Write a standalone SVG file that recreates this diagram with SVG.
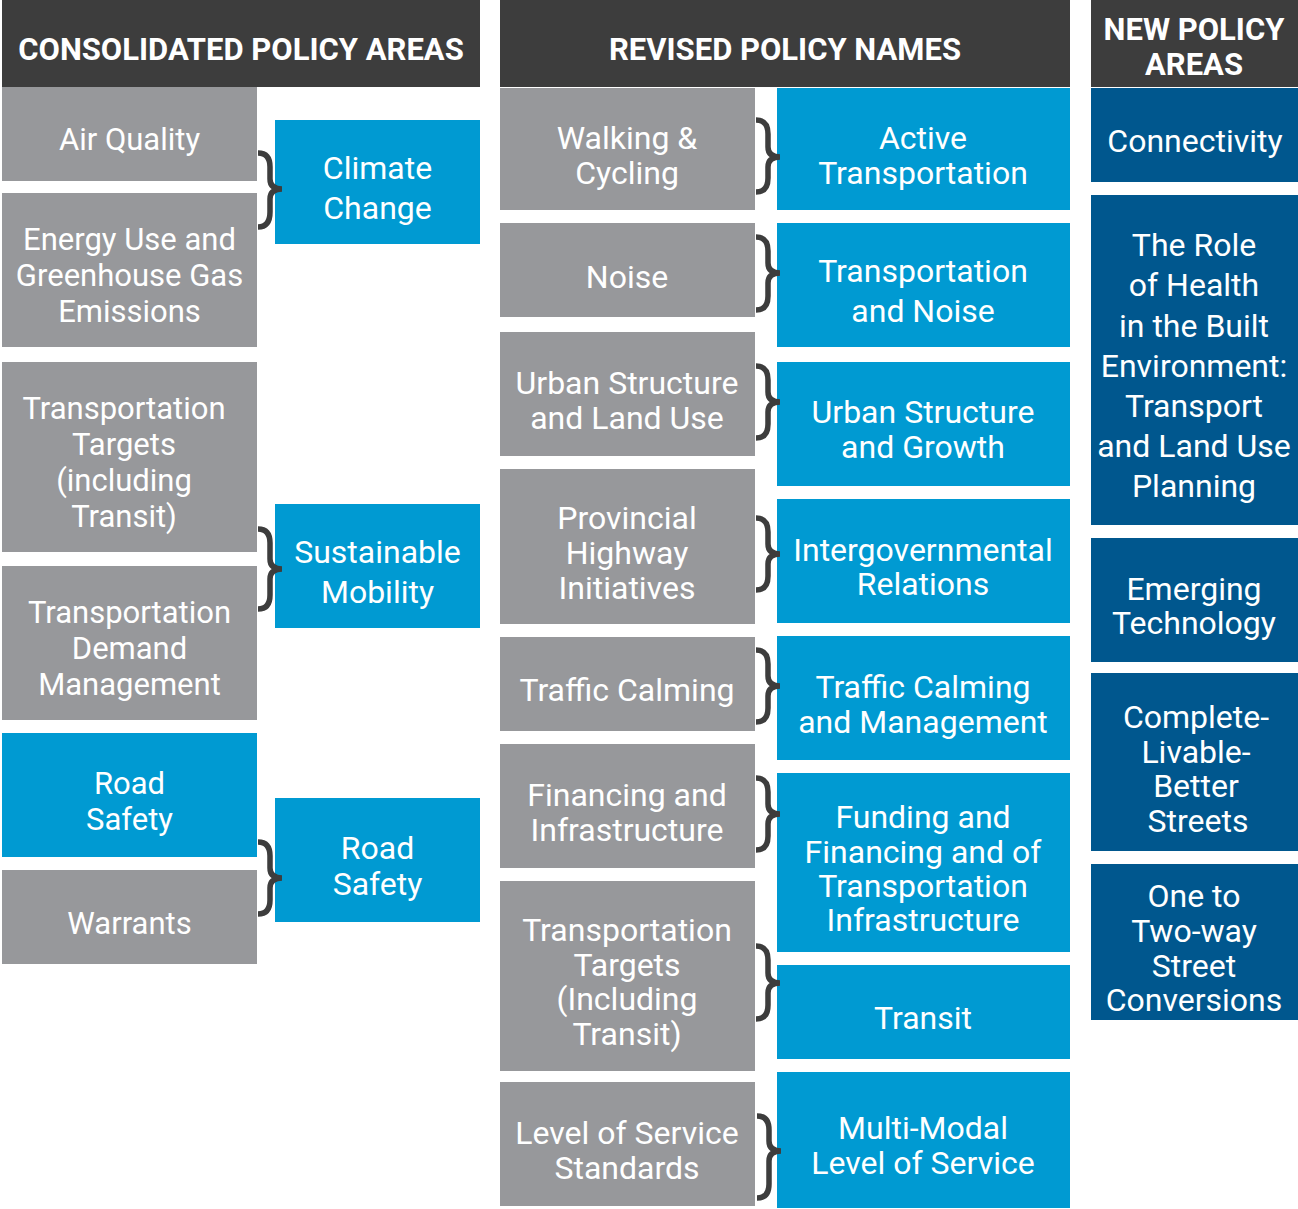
<svg xmlns="http://www.w3.org/2000/svg" width="1298" height="1209" viewBox="0 0 1298 1209">
<style>
.hd{fill:#3d3d3d}
.g{fill:#97989b}
.b{fill:#009ad2}
.d{fill:#00578e}
text{font-family:Roboto,"Liberation Sans",sans-serif;fill:#fff;text-anchor:middle}
.t{font-size:32px}
.s{font-size:31px}
.h{font-size:31px;font-weight:bold}
.br{fill:none;stroke:#3d3d3d;stroke-width:5.5}
</style>
<rect width="1298" height="1209" fill="#fff"/>
<g id="hdr1"><rect class="hd" x="2" y="0" width="478" height="87"/><text class="h" x="241" y="60">CONSOLIDATED POLICY AREAS</text></g>
<g id="hdr2"><rect class="hd" x="500" y="0" width="570" height="87"/><text class="h" x="785" y="60">REVISED POLICY NAMES</text></g>
<g id="hdr3"><rect class="hd" x="1091" y="0" width="207" height="87"/><text class="h" x="1194" y="40">NEW POLICY</text><text class="h" x="1194" y="75">AREAS</text></g>

<g id="c1-air"><rect class="g" x="2" y="87" width="255" height="94"/><text class="s" x="129.5" y="150">Air Quality</text></g>
<g id="c1-energy"><rect class="g" x="2" y="193" width="255" height="154"/><text class="s" x="129.5" y="250">Energy Use and</text><text class="s" x="129.5" y="286">Greenhouse Gas</text><text class="s" x="129.5" y="322">Emissions</text></g>
<g id="c1-tt"><rect class="g" x="2" y="362" width="255" height="190"/><text class="s" x="124" y="419">Transportation</text><text class="s" x="124" y="455">Targets</text><text class="s" x="124" y="491">(including</text><text class="s" x="124" y="527">Transit)</text></g>
<g id="c1-tdm"><rect class="g" x="2" y="566" width="255" height="154"/><text class="s" x="129.5" y="623">Transportation</text><text class="s" x="129.5" y="659">Demand</text><text class="s" x="129.5" y="695">Management</text></g>
<g id="c1-rs"><rect class="b" x="2" y="733" width="255" height="124"/><text class="s" x="129.5" y="794">Road</text><text class="s" x="129.5" y="830">Safety</text></g>
<g id="c1-war"><rect class="g" x="2" y="870" width="255" height="94"/><text class="s" x="129.5" y="934">Warrants</text></g>

<g id="c1-cc"><rect class="b" x="275" y="120" width="205" height="124"/><text class="t" x="377.5" y="179">Climate</text><text class="t" x="377.5" y="219">Change</text></g>
<g id="c1-sm"><rect class="b" x="275" y="504" width="205" height="124"/><text class="t" x="377.5" y="563">Sustainable</text><text class="t" x="377.5" y="603">Mobility</text></g>
<g id="c1-rs2"><rect class="b" x="275" y="798" width="205" height="124"/><text class="t" x="377.5" y="859">Road</text><text class="t" x="377.5" y="895">Safety</text></g>

<g id="c2-walk"><rect class="g" x="500" y="88" width="255" height="122"/><text class="t" x="627" y="149">Walking &amp;</text><text class="t" x="627" y="184">Cycling</text></g>
<g id="c2-noise"><rect class="g" x="500" y="223" width="255" height="94"/><text class="t" x="627" y="288">Noise</text></g>
<g id="c2-urban"><rect class="g" x="500" y="332" width="255" height="124"/><text class="t" x="627" y="394">Urban Structure</text><text class="t" x="627" y="429">and Land Use</text></g>
<g id="c2-prov"><rect class="g" x="500" y="469" width="255" height="155"/><text class="t" x="627" y="529">Provincial</text><text class="t" x="627" y="564">Highway</text><text class="t" x="627" y="599">Initiatives</text></g>
<g id="c2-tc"><rect class="g" x="500" y="637" width="255" height="94"/><text class="t" x="627" y="701">Traffic Calming</text></g>
<g id="c2-fin"><rect class="g" x="500" y="744" width="255" height="124"/><text class="t" x="627" y="806">Financing and</text><text class="t" x="627" y="841">Infrastructure</text></g>
<g id="c2-tt"><rect class="g" x="500" y="881" width="255" height="190"/><text class="t" x="627" y="941">Transportation</text><text class="t" x="627" y="976">Targets</text><text class="t" x="627" y="1010">(Including</text><text class="t" x="627" y="1045">Transit)</text></g>
<g id="c2-los"><rect class="g" x="500" y="1082" width="255" height="124"/><text class="t" x="627" y="1144">Level of Service</text><text class="t" x="627" y="1179">Standards</text></g>

<g id="c2-active"><rect class="b" x="777" y="88" width="293" height="122"/><text class="t" x="923" y="149">Active</text><text class="t" x="923" y="184">Transportation</text></g>
<g id="c2-tn"><rect class="b" x="777" y="223" width="293" height="124"/><text class="t" x="923" y="282">Transportation</text><text class="t" x="923" y="322">and Noise</text></g>
<g id="c2-usg"><rect class="b" x="777" y="362" width="293" height="124"/><text class="t" x="923" y="423">Urban Structure</text><text class="t" x="923" y="458">and Growth</text></g>
<g id="c2-igr"><rect class="b" x="777" y="499" width="293" height="124"/><text class="t" x="923" y="561">Intergovernmental</text><text class="t" x="923" y="595">Relations</text></g>
<g id="c2-tcm"><rect class="b" x="777" y="636" width="293" height="124"/><text class="t" x="923" y="698">Traffic Calming</text><text class="t" x="923" y="733">and Management</text></g>
<g id="c2-fund"><rect class="b" x="777" y="773" width="293" height="179"/><text class="t" x="923" y="828">Funding and</text><text class="t" x="923" y="863">Financing and of</text><text class="t" x="923" y="897">Transportation</text><text class="t" x="923" y="931">Infrastructure</text></g>
<g id="c2-transit"><rect class="b" x="777" y="965" width="293" height="94"/><text class="t" x="923" y="1029">Transit</text></g>
<g id="c2-mmlos"><rect class="b" x="777" y="1072" width="293" height="136"/><text class="t" x="923" y="1139">Multi-Modal</text><text class="t" x="923" y="1174">Level of Service</text></g>

<g id="c3-conn"><rect class="d" x="1091" y="88" width="207" height="94"/><text class="t" x="1195" y="152">Connectivity</text></g>
<g id="c3-health"><rect class="d" x="1091" y="195" width="207" height="330"/><text class="t" x="1194" y="256">The Role</text><text class="t" x="1194" y="296">of Health</text><text class="t" x="1194" y="337">in the Built</text><text class="t" x="1194" y="377">Environment:</text><text class="t" x="1194" y="417">Transport</text><text class="t" x="1194" y="457">and Land Use</text><text class="t" x="1194" y="497">Planning</text></g>
<g id="c3-emerg"><rect class="d" x="1091" y="538" width="207" height="124"/><text class="t" x="1194" y="600">Emerging</text><text class="t" x="1194" y="634">Technology</text></g>
<g id="c3-clbs"><rect class="d" x="1091" y="673" width="207" height="178"/><text class="t" x="1196" y="728">Complete-</text><text class="t" x="1196" y="763">Livable-</text><text class="t" x="1196" y="797">Better</text><text class="t" x="1198" y="832">Streets</text></g>
<g id="c3-oneway"><rect class="d" x="1091" y="864" width="207" height="156"/><text class="t" x="1194" y="907">One to</text><text class="t" x="1194" y="942">Two-way</text><text class="t" x="1194" y="977">Street</text><text class="t" x="1194" y="1011">Conversions</text></g>

<g id="connectors">
<path class="br" d="M258,153 Q270,153 270,167 L270,179 Q270,189 282,189 Q270,189 270,199 L270,212 Q270,227 258,227"/>
<path class="br" d="M258,529 Q270,529 270,543 L270,559 Q270,569 282,569 Q270,569 270,579 L270,595 Q270,609 258,609"/>
<path class="br" d="M258,842 Q270,842 270,856 L270,868 Q270,878 282,878 Q270,878 270,888 L270,900 Q270,914 258,914"/>
<path class="br" d="M756,120 Q768,120 768,134 L768,147 Q768,157 780,157 Q768,157 768,167 L768,178 Q768,192 756,192"/>
<path class="br" d="M756,237 Q768,237 768,251 L768,263 Q768,273 780,273 Q768,273 768,283 L768,296 Q768,310 756,310"/>
<path class="br" d="M756,366 Q768,366 768,380 L768,392 Q768,402 780,402 Q768,402 768,412 L768,424 Q768,438 756,438"/>
<path class="br" d="M756,518 Q768,518 768,532 L768,544 Q768,554 780,554 Q768,554 768,564 L768,576 Q768,590 756,590"/>
<path class="br" d="M756,650 Q768,650 768,664 L768,676 Q768,686 780,686 Q768,686 768,696 L768,708 Q768,722 756,722"/>
<path class="br" d="M756,778 Q768,778 768,792 L768,804 Q768,814 780,814 Q768,814 768,824 L768,836 Q768,850 756,850"/>
<path class="br" d="M756,946 Q768,946 768,960 L768,973 Q768,983 780,983 Q768,983 768,993 L768,1005 Q768,1019 756,1019"/>
<path class="br" d="M757,1116 Q769,1116 769,1130 L769,1141 Q769,1151 781,1151 Q769,1151 769,1161 L769,1184 Q769,1198 757,1198"/>
</g>
</svg>
